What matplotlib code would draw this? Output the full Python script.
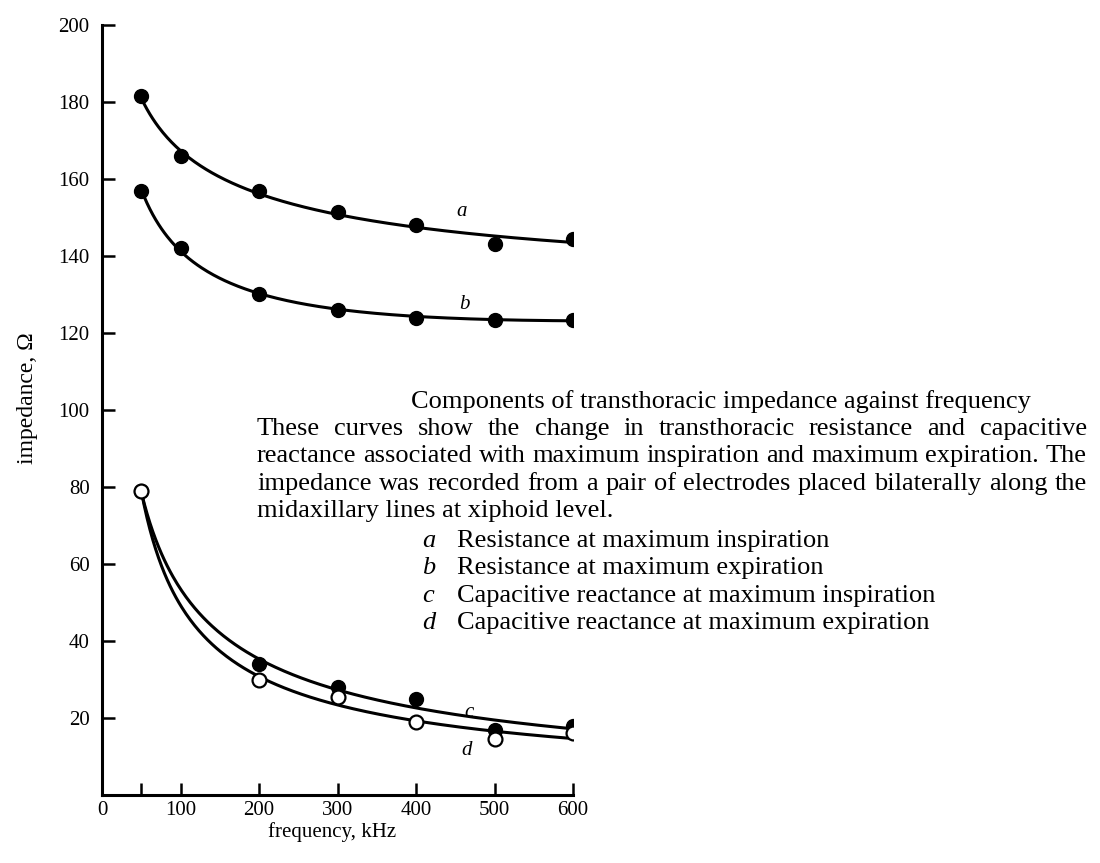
import numpy as np
import matplotlib.pyplot as plt

# frequency, kHz
freq = [50, 100, 200, 300, 400, 500, 600]
# a: resistance at maximum inspiration
res_insp = [181.5, 166, 157, 151.5, 148, 143, 144.5]
# b: resistance at maximum expiration
res_exp = [157, 142, 130, 126, 124, 123.5, 123.5]
# c: capacitive reactance at maximum inspiration
react_insp = [79, 34, 28, 25, 17, 18]
# d: capacitive reactance at maximum expiration
react_exp = [79, 30, 25.5, 19, 14.5, 16]
freq_react = [50, 200, 300, 400, 500, 600]

x_ticks = [0, 100, 200, 300, 400, 500, 600]
y_ticks = [20, 40, 60, 80, 100, 120, 140, 160, 180, 200]

title = "Components of transthoracic impedance against frequency"
para = [
    "These curves show the change in transthoracic resistance and capacitive",
    "reactance associated with maximum inspiration and maximum expiration. The",
    "impedance was recorded from a pair of electrodes placed bilaterally along the",
]
para_last = "midaxillary lines at xiphoid level."
keys = ["a", "b", "c", "d"]
key_text = [
    "Resistance at maximum inspiration",
    "Resistance at maximum expiration",
    "Capacitive reactance at maximum inspiration",
    "Capacitive reactance at maximum expiration",
]

SERIF = "Liberation Serif"
W, H = 1100, 863

fig = plt.figure(figsize=(W / 100, H / 100), dpi=100)
ax = fig.add_axes([102 / W, 1 - 795 / H, (573 - 102) / W, (795 - 25) / H])


def fit_curve(x, y, log_y=False, deg=2):
    lx = np.log(x)
    yy = np.log(y) if log_y else np.array(y, float)
    p = np.polyfit(lx, yy, deg)
    xs = np.linspace(min(x), max(x), 300)
    ys = np.polyval(p, np.log(xs))
    return xs, (np.exp(ys) if log_y else ys)


for xv, yv, logy in [(freq, res_insp, False), (freq, res_exp, False),
                     (freq_react, react_insp, True), (freq_react, react_exp, True)]:
    xs, ys = fit_curve(xv, yv, logy)
    ax.plot(xs, ys, color="black", lw=2.2, zorder=2)

ax.plot(freq, res_insp, "o", color="black", ms=10, zorder=3)
ax.plot(freq, res_exp, "o", color="black", ms=10, zorder=3)
ax.plot(freq_react, react_insp, "o", color="black", ms=10, zorder=3)
ax.plot(freq_react, react_exp, "o", mfc="white", mec="black", mew=1.6, ms=10, zorder=4)

for lab, (lx, ly) in zip(keys, [(458, 151.5), (462, 127.5), (468, 21.5), (464, 11.5)]):
    ax.text(lx, ly, lab, fontsize=15, family=SERIF, style="italic", ha="center", va="center")

ax.set_xlim(0, 600)
ax.set_ylim(0, 200)
ax.set_xticks(x_ticks)
ax.set_xticks([50], minor=True)
ax.set_yticks(y_ticks)
ax.tick_params(direction="in", length=9, width=1.8, labelsize=15)
ax.tick_params(axis="y", pad=9)
ax.tick_params(axis="x", pad=4)
ax.tick_params(which="minor", direction="in", length=9, width=1.8)
for lbl in ax.get_xticklabels() + ax.get_yticklabels():
    lbl.set_family(SERIF)
for s in ["top", "right"]:
    ax.spines[s].set_visible(False)
for s in ["left", "bottom"]:
    ax.spines[s].set_linewidth(2.2)

fig.text(28 / W, 1 - 398 / H, "impedance, Ω", rotation=90, fontsize=17,
         family=SERIF, ha="center", va="center")
fig.text(332 / W, 1 - 832 / H, "frequency, kHz", fontsize=15,
         family=SERIF, ha="center", va="center")

# caption block
FS = 19
fig.text(721 / W, 1 - 402 / H, title, fontsize=FS, family=SERIF, ha="center", va="center")

renderer = fig.canvas.get_renderer()
x0, x1 = 257, 1087
for i, line in enumerate(para):
    yline = 1 - (429 + 27.3 * i) / H
    words = line.split()
    texts = [fig.text(0, yline, w, fontsize=FS, family=SERIF, va="center") for w in words]
    widths = [t.get_window_extent(renderer).width for t in texts]
    gap = ((x1 - x0) - sum(widths)) / (len(words) - 1)
    xp = x0
    for t, wd in zip(texts, widths):
        t.set_x(xp / W)
        xp += wd + gap
fig.text(x0 / W, 1 - (429 + 27.3 * 3) / H, para_last, fontsize=FS, family=SERIF, va="center")

for i, (k, txt) in enumerate(zip(keys, key_text)):
    yk = 1 - (541 + 27.3 * i) / H
    fig.text(422 / W, yk, k, fontsize=FS, family=SERIF, style="italic", va="center")
    fig.text(457 / W, yk, txt, fontsize=FS, family=SERIF, va="center")

fig.savefig("out.png", dpi=100)
